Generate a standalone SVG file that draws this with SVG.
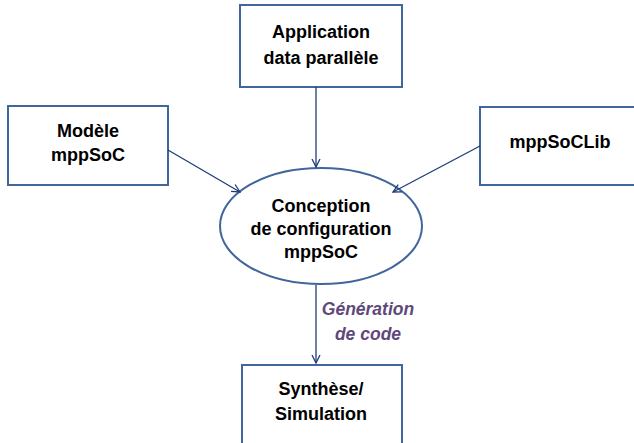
<svg xmlns="http://www.w3.org/2000/svg" width="634" height="443" viewBox="0 0 634 443">
<style>
.box{fill:#fff;stroke:#41669b;stroke-width:2}
.t{font-family:"Liberation Sans",Arial,sans-serif;font-weight:bold;font-size:18px;fill:#000;text-anchor:middle}
.lbl{font-family:"Liberation Sans",Arial,sans-serif;font-weight:bold;font-style:italic;font-size:17.5px;fill:#5f497a;text-anchor:middle}
.c{stroke:#1f3c78;stroke-width:1.3;fill:none;marker-end:url(#ah)}
</style>
<defs>
<marker id="ah" viewBox="0 0 10 10" refX="9" refY="5" markerWidth="10" markerHeight="10" markerUnits="userSpaceOnUse" orient="auto">
<path d="M1,1 L9,5 L1,9" fill="none" stroke="#1f3c78" stroke-width="1.3"/>
</marker>
</defs>
<g id="app"><rect class="box" x="240" y="5" width="162" height="82"/>
<text class="t" x="321" y="38">Application</text><text class="t" x="321" y="64">data parallèle</text></g>
<g id="modele"><rect class="box" x="8" y="106" width="160" height="79"/>
<text class="t" x="88" y="137">Modèle</text><text class="t" x="88" y="161">mppSoC</text></g>
<g id="lib"><rect class="box" x="480" y="107" width="162" height="78"/>
<text class="t" x="560" y="148">mppSoCLib</text></g>
<g id="conception"><ellipse class="box" cx="321" cy="226" rx="101" ry="58"/>
<text class="t" x="321" y="212">Conception</text><text class="t" x="321" y="235">de configuration</text><text class="t" x="321" y="258">mppSoC</text></g>
<g id="synthese"><rect class="box" x="242" y="365" width="160" height="90"/>
<text class="t" x="321" y="395">Synthèse/</text><text class="t" x="321" y="420">Simulation</text></g>
<g id="connectors">
<line class="c" x1="316" y1="87" x2="316" y2="167"/>
<line class="c" x1="168" y1="150" x2="240" y2="192"/>
<line class="c" x1="480" y1="146" x2="393" y2="192"/>
<line class="c" x1="316" y1="285" x2="316" y2="363"/>
<text class="lbl" x="368" y="315">Génération</text><text class="lbl" x="368" y="340">de code</text>
</g>
</svg>
